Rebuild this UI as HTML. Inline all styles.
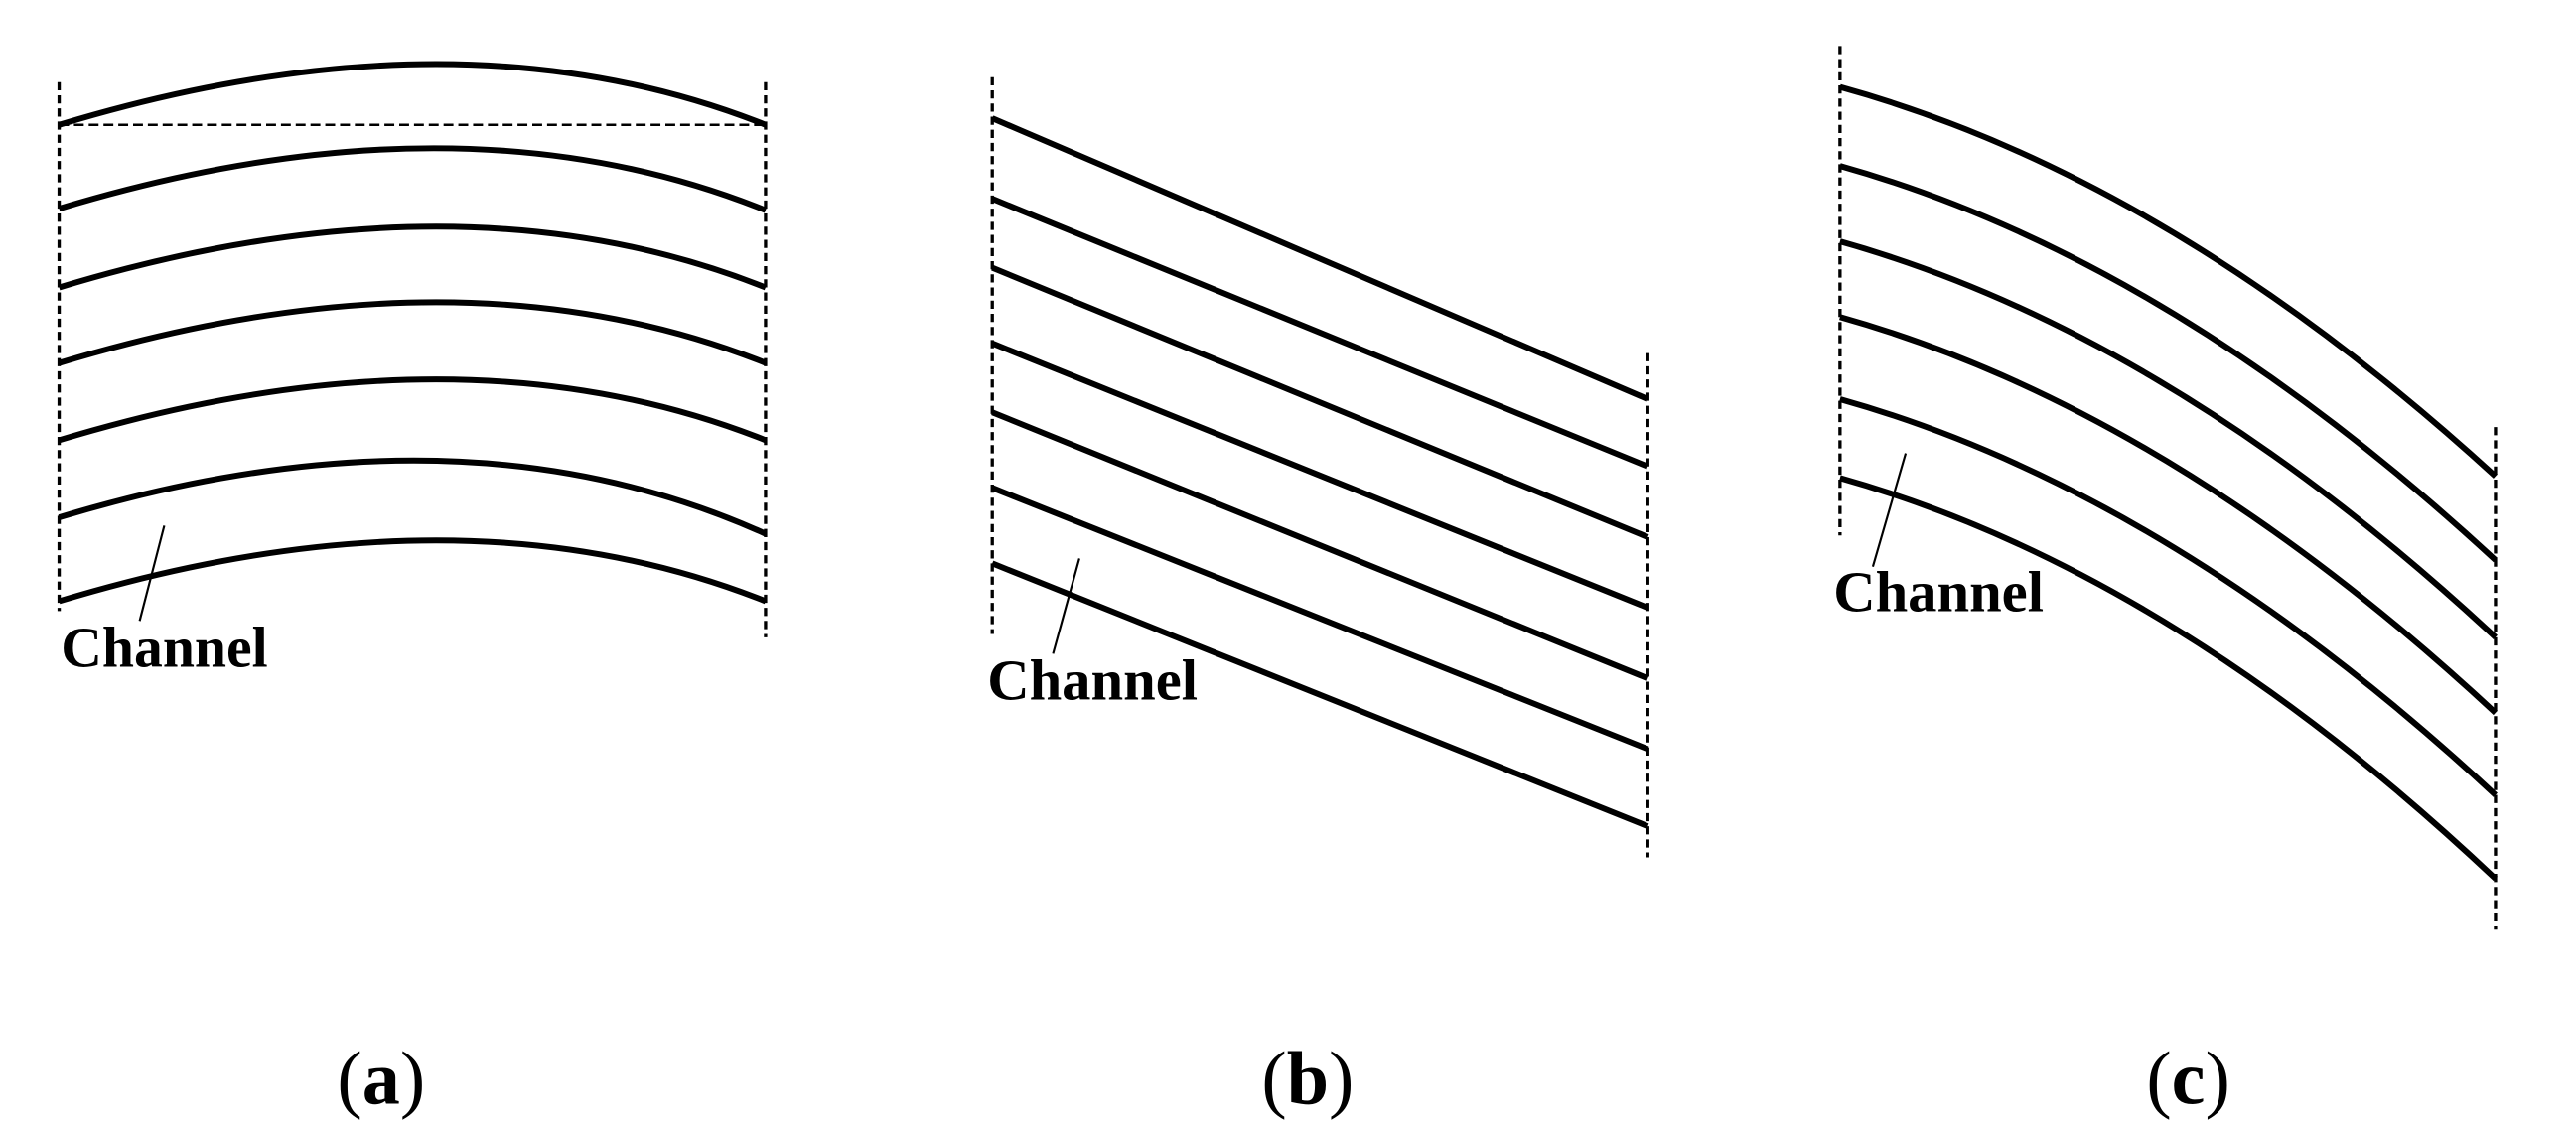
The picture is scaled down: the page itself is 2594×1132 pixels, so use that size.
<!DOCTYPE html>
<html><head><style>html,body{margin:0;padding:0;background:#fff}svg{display:block}</style></head>
<body>
<svg width="2594" height="1132" viewBox="0 0 1568 684.3" preserveAspectRatio="none" xmlns="http://www.w3.org/2000/svg">
<g stroke="#000" fill="none">
 <g stroke-width="2" stroke-dasharray="5,3">
  <line x1="36" y1="50" x2="36" y2="372"/>
  <line x1="466" y1="50" x2="466" y2="388"/>
  <line x1="604" y1="47" x2="604" y2="386"/>
  <line x1="1003" y1="215" x2="1003" y2="522"/>
  <line x1="1120" y1="28" x2="1120" y2="326"/>
  <line x1="1519" y1="260" x2="1519" y2="566"/>
 </g>
 <line x1="36" y1="76" x2="466" y2="76" stroke-width="1.5" stroke-dasharray="6,3"/>
 <g stroke-width="3.6">
  <path d="M36 76 Q280 2 466 76"/>
  <path d="M36 127 Q280 53 466 128"/>
  <path d="M36 175 Q280 101 466 175"/>
  <path d="M36 221 Q280 147 466 221"/>
  <path d="M36 268 Q280 194 466 268"/>
  <path d="M36 315 Q280 241 466 325"/>
  <path d="M36 366 Q280 292 466 366"/>
  <line x1="604" y1="72" x2="1003" y2="243"/>
  <line x1="604" y1="121" x2="1003" y2="284"/>
  <line x1="604" y1="163" x2="1003" y2="327"/>
  <line x1="604" y1="209" x2="1003" y2="370"/>
  <line x1="604" y1="251" x2="1003" y2="413"/>
  <line x1="604" y1="297" x2="1003" y2="456"/>
  <line x1="604" y1="343" x2="1003" y2="503"/>
  <path d="M1120 53 Q1320 108 1519 290"/>
  <path d="M1120 101 Q1320 157 1519 341"/>
  <path d="M1120 147 Q1320 203 1519 388"/>
  <path d="M1120 193 Q1320 249 1519 434"/>
  <path d="M1120 243 Q1320 299 1519 484"/>
  <path d="M1120 291 Q1320 347 1519 535"/>
 </g>
 <g stroke-width="1.3">
  <line x1="100" y1="320" x2="85" y2="378"/>
  <line x1="657" y1="340" x2="641" y2="398"/>
  <line x1="1160" y1="276" x2="1140" y2="345"/>
 </g>
</g>
<g font-family="Liberation Serif, serif" font-weight="bold" font-size="35" fill="#000">
 <text x="37" y="406" textLength="126" lengthAdjust="spacingAndGlyphs">Channel</text>
 <text x="601" y="426" textLength="128" lengthAdjust="spacingAndGlyphs">Channel</text>
 <text x="1116" y="372" textLength="128" lengthAdjust="spacingAndGlyphs">Channel</text>
</g>
<g font-family="Liberation Serif, serif" font-size="46" fill="#000" text-anchor="middle">
 <text x="232" y="672">(<tspan font-weight="bold">a</tspan>)</text>
 <text x="796" y="672">(<tspan font-weight="bold">b</tspan>)</text>
 <text x="1332" y="672">(<tspan font-weight="bold">c</tspan>)</text>
</g>
</svg>
</body></html>
